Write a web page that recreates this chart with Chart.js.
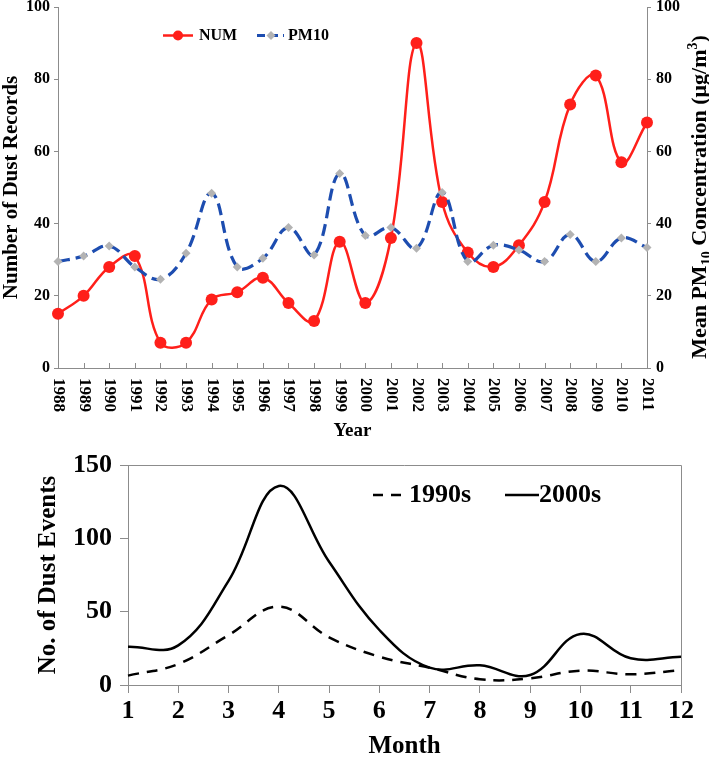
<!DOCTYPE html>
<html>
<head>
<meta charset="utf-8">
<title>Dust records and PM10</title>
<script src="https://cdn.jsdelivr.net/npm/chart.js@4.4.0/dist/chart.umd.min.js"></script>
<style>
  html, body { margin: 0; padding: 0; background: #fff; }
  canvas { display: block; }
</style>
</head>
<body>
<canvas id="annual-chart" width="709" height="440"></canvas>
<canvas id="monthly-chart" width="709" height="317"></canvas>
<script>
// Top panel: yearly dust records and mean PM10
const years = ['1988', '1989', '1990', '1991', '1992', '1993', '1994', '1995', '1996', '1997', '1998', '1999',
  '2000', '2001', '2002', '2003', '2004', '2005', '2006', '2007', '2008', '2009', '2010', '2011'];
const numRecords = [15, 20, 28, 31, 7, 7, 19, 21, 25, 18, 13, 35, 18, 36, 90, 46, 32, 28, 34, 46, 73, 81, 57, 68];
const pm10Mean = [29.5, 31, 33.8, 28, 24.6, 31.8, 48.4, 28, 30.4, 38.9, 31.3, 53.9,
  36.7, 38.9, 33.2, 48.6, 29.5, 34, 32.7, 29.5, 37, 29.5, 36, 33.4];

// Bottom panel: dust events per month
const months = ['1', '2', '3', '4', '5', '6', '7', '8', '9', '10', '11', '12'];
const events1990s = [6.4, 14.3, 34, 53.4, 32.5, 19.3, 11.8, 3.9, 4.5, 9.8, 7.3, 10.2];
const events2000s = [26, 27, 71, 135.7, 84, 37.5, 11.8, 13.4, 6.8, 34.8, 18.2, 19.3];

const FONT = '"Liberation Serif", "Times New Roman", serif';
const AXIS_GRAY = '#8c8c8c';
const RED = '#ff1f1a';
const BLUE = '#1d4db0';
const DIAMOND = '#b3b3b3';

// Draw bold serif text, optionally rotated
function drawText(ctx, text, x, y, opts = {}) {
  ctx.save();
  ctx.translate(x, y);
  ctx.rotate(opts.angle || 0);
  ctx.font = `bold ${opts.size || 16}px ${FONT}`;
  ctx.fillStyle = opts.color || '#000';
  ctx.textAlign = opts.align || 'center';
  ctx.textBaseline = opts.baseline || 'middle';
  ctx.fillText(text, 0, 0);
  ctx.restore();
}

// Force axis box size so the plot area lands where the reference has it
function fixSize(size) {
  return (scale) => {
    if (scale.isHorizontal()) {
      scale.height = size;
    } else {
      scale.width = size;
    }
    scale.paddingTop = 0;
    scale.paddingBottom = 0;
    scale.paddingLeft = 0;
    scale.paddingRight = 0;
  };
}

function tickFont(size) {
  return { family: FONT, size: size, weight: 'bold' };
}

// Decorations for the annual chart
const annualDecor = {
  id: 'annualDecor',
  afterDraw(chart) {
    const { ctx, chartArea, scales } = chart;
    const x = scales.x;

    // inward tick marks and rotated year labels
    ctx.save();
    ctx.strokeStyle = AXIS_GRAY;
    ctx.lineWidth = 1;
    years.forEach((label, i) => {
      const px = Math.round(x.getPixelForValue(i)) + 0.5;
      ctx.beginPath();
      ctx.moveTo(px, chartArea.bottom);
      ctx.lineTo(px, chartArea.bottom - 5);
      ctx.stroke();
      drawText(ctx, label, px, chartArea.bottom + 10, { size: 17, angle: Math.PI / 2, align: 'left' });
    });
    ctx.restore();

    drawText(ctx, 'Year', (chartArea.left + chartArea.right) / 2, 431, { size: 19 });
    drawText(ctx, 'Number of Dust Records', 17, (chartArea.top + chartArea.bottom) / 2,
      { size: 21, angle: -Math.PI / 2, baseline: 'alphabetic' });

    // right title with subscript and superscript
    const parts = [
      { t: 'Mean PM', size: 22, dy: 0 },
      { t: '10', size: 14, dy: 5 },
      { t: ' Concentration (\u03bcg/m', size: 22, dy: 0 },
      { t: '3', size: 14, dy: -9 },
      { t: ')', size: 22, dy: 0 }
    ];
    ctx.save();
    let total = 0;
    parts.forEach(p => {
      ctx.font = `bold ${p.size}px ${FONT}`;
      p.w = ctx.measureText(p.t).width;
      total += p.w;
    });
    ctx.translate(706, 197);
    ctx.rotate(-Math.PI / 2);
    ctx.fillStyle = '#000';
    ctx.textBaseline = 'alphabetic';
    ctx.textAlign = 'left';
    let cx = -total / 2;
    parts.forEach(p => {
      ctx.font = `bold ${p.size}px ${FONT}`;
      ctx.fillText(p.t, cx, p.dy);
      cx += p.w;
    });
    ctx.restore();

    // legend
    const ly = 35.5;
    ctx.save();
    ctx.strokeStyle = RED;
    ctx.lineWidth = 2.5;
    ctx.beginPath();
    ctx.moveTo(163, ly);
    ctx.lineTo(193, ly);
    ctx.stroke();
    ctx.fillStyle = RED;
    ctx.beginPath();
    ctx.arc(178, ly, 5, 0, Math.PI * 2);
    ctx.fill();
    ctx.strokeStyle = BLUE;
    ctx.lineWidth = 3;
    ctx.setLineDash([8, 5]);
    ctx.beginPath();
    ctx.moveTo(257, ly);
    ctx.lineTo(284, ly);
    ctx.stroke();
    ctx.setLineDash([]);
    ctx.fillStyle = DIAMOND;
    ctx.beginPath();
    ctx.moveTo(271, ly - 4.5);
    ctx.lineTo(275.5, ly);
    ctx.lineTo(271, ly + 4.5);
    ctx.lineTo(266.5, ly);
    ctx.closePath();
    ctx.fill();
    ctx.restore();
    drawText(ctx, 'NUM', 199, ly, { size: 16, align: 'left' });
    drawText(ctx, 'PM10', 288, ly, { size: 16, align: 'left' });
  }
};

// Decorations for the monthly chart
const monthlyDecor = {
  id: 'monthlyDecor',
  afterDraw(chart) {
    const { ctx, chartArea } = chart;

    // frame on top and right
    ctx.save();
    ctx.strokeStyle = AXIS_GRAY;
    ctx.lineWidth = 1;
    ctx.beginPath();
    ctx.moveTo(chartArea.left, chartArea.top + 0.5);
    ctx.lineTo(chartArea.right + 0.5, chartArea.top + 0.5);
    ctx.lineTo(chartArea.right + 0.5, chartArea.bottom);
    ctx.stroke();
    ctx.restore();

    drawText(ctx, 'Month', (chartArea.left + chartArea.right) / 2, 307, { size: 25 });
    drawText(ctx, 'No. of Dust Events', 55, (chartArea.top + chartArea.bottom) / 2,
      { size: 25, angle: -Math.PI / 2, baseline: 'alphabetic' });

    // legend
    const ly = 55;
    ctx.save();
    ctx.strokeStyle = '#000';
    ctx.lineWidth = 2.5;
    ctx.setLineDash([10, 8]);
    ctx.beginPath();
    ctx.moveTo(373, ly);
    ctx.lineTo(404, ly);
    ctx.stroke();
    ctx.setLineDash([]);
    ctx.beginPath();
    ctx.moveTo(505, ly);
    ctx.lineTo(539, ly);
    ctx.stroke();
    ctx.restore();
    drawText(ctx, '1990s', 409, ly, { size: 26, align: 'left' });
    drawText(ctx, '2000s', 539, ly, { size: 26, align: 'left' });
  }
};

// Annual chart
new Chart(document.getElementById('annual-chart'), {
  type: 'line',
  data: {
    labels: years,
    datasets: [
      {
        label: 'PM10',
        data: pm10Mean,
        yAxisID: 'y1',
        order: 0,
        borderColor: BLUE,
        borderWidth: 3.2,
        borderDash: [12, 6],
        tension: 0.4,
        pointStyle: 'rectRot',
        pointRadius: 4.5,
        pointBackgroundColor: DIAMOND,
        pointBorderColor: DIAMOND,
        pointBorderWidth: 0,
        clip: false
      },
      {
        label: 'NUM',
        data: numRecords,
        yAxisID: 'y',
        order: 1,
        borderColor: RED,
        borderWidth: 2.5,
        tension: 0.4,
        pointStyle: 'circle',
        pointRadius: 6,
        pointBackgroundColor: RED,
        pointBorderColor: RED,
        pointBorderWidth: 0,
        clip: false
      }
    ]
  },
  options: {
    responsive: false,
    animation: false,
    events: [],
    layout: { padding: { top: 7, left: 0, right: 0, bottom: 0 } },
    plugins: {
      legend: { display: false },
      tooltip: { enabled: false }
    },
    scales: {
      x: {
        afterFit: fixSize(72),
        grid: { display: false },
        border: { color: AXIS_GRAY, width: 1 },
        ticks: { display: false, autoSkip: false }
      },
      y: {
        position: 'left',
        min: 0,
        max: 100,
        afterFit: fixSize(58),
        grid: { drawOnChartArea: false, drawTicks: true, tickLength: 4, color: AXIS_GRAY },
        border: { color: AXIS_GRAY, width: 1 },
        ticks: { stepSize: 20, color: '#000', font: tickFont(16), padding: 4 }
      },
      y1: {
        position: 'right',
        min: 0,
        max: 100,
        afterFit: fixSize(62),
        grid: { drawOnChartArea: false, drawTicks: true, tickLength: 4, color: AXIS_GRAY },
        border: { color: AXIS_GRAY, width: 1 },
        ticks: { stepSize: 20, color: '#000', font: tickFont(16), padding: 5 }
      }
    }
  },
  plugins: [annualDecor]
});

// Monthly chart
new Chart(document.getElementById('monthly-chart'), {
  type: 'line',
  data: {
    labels: months,
    datasets: [
      {
        label: '1990s',
        data: events1990s,
        borderColor: '#000',
        borderWidth: 2.5,
        borderDash: [11, 8],
        tension: 0.4,
        pointRadius: 0,
        clip: false
      },
      {
        label: '2000s',
        data: events2000s,
        borderColor: '#000',
        borderWidth: 2.5,
        tension: 0.4,
        pointRadius: 0,
        clip: false
      }
    ]
  },
  options: {
    responsive: false,
    animation: false,
    events: [],
    layout: { padding: { top: 25, left: 0, right: 28, bottom: 0 } },
    plugins: {
      legend: { display: false },
      tooltip: { enabled: false }
    },
    scales: {
      x: {
        afterFit: fixSize(72),
        grid: { drawOnChartArea: false, drawTicks: true, tickLength: 8, color: AXIS_GRAY },
        border: { color: AXIS_GRAY, width: 1 },
        ticks: { color: '#000', font: tickFont(26), padding: 3, maxRotation: 0, autoSkip: false }
      },
      y: {
        min: 0,
        max: 150,
        afterFit: fixSize(128),
        grid: { drawOnChartArea: false, drawTicks: true, tickLength: 8, color: AXIS_GRAY },
        border: { color: AXIS_GRAY, width: 1 },
        ticks: { stepSize: 50, color: '#000', font: tickFont(26), padding: 8 }
      }
    }
  },
  plugins: [monthlyDecor]
});
</script>
</body>
</html>
